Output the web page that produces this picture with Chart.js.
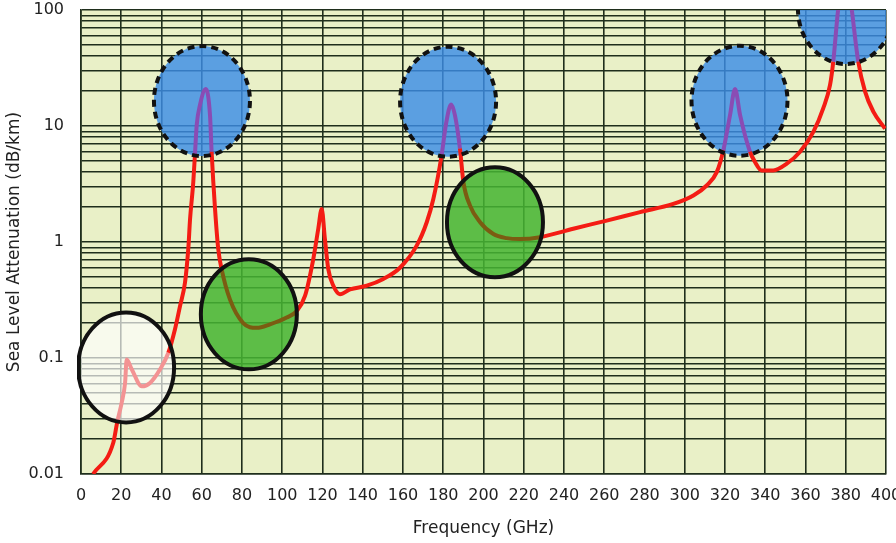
<!DOCTYPE html>
<html>
<head>
<meta charset="utf-8">
<script src="https://cdn.jsdelivr.net/npm/chart.js@4/dist/chart.umd.min.js"></script>
<style>
  html, body { margin: 0; padding: 0; background: #ffffff; }
  #wrap { width: 896px; height: 543px; }
</style>
</head>
<body>
<div id="wrap"><canvas id="attChart" width="896" height="543"></canvas></div>
<script>
// frequencia (GHz) e atenuacao ao nivel do mar (dB/km)
const freqGHz = [6, 16, 18, 20.2, 21.9, 22.7, 25.2, 30.2, 34.3, 39.3, 43.4, 46.7, 49.2, 51.7, 53.3, 54.2, 55.8, 56.6,
  57.5, 59.1, 62, 64.1, 64.9, 66.6, 68.2, 69.9, 74, 80.6, 87.3, 93.9, 102.2, 107.2, 111.3, 115.4, 117.9, 119.6,
  121.2, 122.9, 125.4, 128.7, 133.7, 142, 150.2, 158.5, 166.8, 171.8, 175.1, 179.2, 181.4, 183.9, 185.8, 188.3,
  190, 193.3, 198.3, 204.9, 211.5, 218.1, 228.1, 244.6, 261.2, 277.8, 294.3, 304.3, 310.9, 315.9, 319.2, 322.5,
  325, 327.5, 332.4, 334.9, 338.2, 344, 350.7, 357.3, 363.9, 368.8, 372.2, 373.8, 376.3, 380, 382.9, 386.2,
  389.6, 393.7, 399.5];
const attenuation = [0.01, 0.0185, 0.028, 0.041, 0.061, 0.097, 0.08, 0.057, 0.061, 0.08, 0.111, 0.177, 0.28, 0.45, 0.87, 1.58, 3.3, 5.6,
  10.2, 15.1, 20.8, 12.4, 6.0, 1.93, 0.87, 0.58, 0.32, 0.2, 0.182, 0.195, 0.223, 0.254, 0.343, 0.71, 1.3, 1.93,
  1.06, 0.58, 0.42, 0.355, 0.39, 0.42, 0.48, 0.6, 0.93, 1.48, 2.36, 5.6, 10.5, 15.3, 12.4, 6.4,
  3.3, 2.06, 1.48, 1.17, 1.08, 1.06, 1.10, 1.30, 1.53, 1.81, 2.13, 2.52, 3.07, 4.0, 6.2, 12.4,
  20.8, 12.4, 6.0, 4.9, 4.14, 4.14, 4.73, 6.0, 8.9, 14.2, 22.6, 36, 104, 250, 104, 36,
  19.8, 13.3, 9.5];

const xTicks = [0, 20, 40, 60, 80, 100, 120, 140, 160, 180, 200, 220, 240, 260, 280, 300, 320, 340, 360, 380, 400];
const yTicks = [0.01, 0.1, 1, 10, 100];

// circulos de destaque (centro em GHz / dB/km)
const markFreq = [22.4, 83.4, 205.7, 60.1, 182.4, 327.2, 380.1];
const markAtt = [0.083, 0.238, 1.48, 16.4, 16.2, 16.5, 102];
const markKind = ['white', 'green', 'green', 'blue', 'blue', 'blue', 'blue'];

const FONT = "'DejaVu Sans', Verdana, sans-serif";
const GRID = '#1f2e1c';

const kindStyle = {
  white: { fill: 'rgba(255,255,255,0.68)', line: '#f39393', dash: [] },
  green: { fill: 'rgba(70,180,50,0.86)', line: '#7b5c12', dash: [] },
  blue: { fill: 'rgba(60,140,230,0.82)', line: '#8a4cb4', dash: [7, 5] }
};
const RX = 48, RY = 55;

// linhas de grade log 1..9 x 10^k
const yGrid = [];
for (let e = -2; e < 2; e++) {
  for (let m = 1; m < 10; m++) yGrid.push(+(m * Math.pow(10, e)).toPrecision(3));
}
yGrid.push(100);

function markPixels(chart) {
  const sx = chart.scales.x, sy = chart.scales.y;
  return markFreq.map((f, i) => ({
    x: sx.getPixelForValue(f),
    y: sy.getPixelForValue(markAtt[i]),
    kind: markKind[i]
  }));
}

function kindAt(chart, px, py) {
  const marks = markPixels(chart);
  for (const m of marks) {
    const dx = (px - m.x) / RX, dy = (py - m.y) / RY;
    if (dx * dx + dy * dy <= 1) return m.kind;
  }
  return null;
}

const plotBg = {
  id: 'plotBg',
  beforeDraw(chart) {
    const { ctx, chartArea: a } = chart;
    ctx.save();
    ctx.fillStyle = '#e9f0c7';
    ctx.fillRect(a.left, a.top, a.right - a.left, a.bottom - a.top);
    ctx.restore();
  }
};

const circles = {
  id: 'circles',
  beforeDatasetsDraw(chart) {
    const { ctx, chartArea: a } = chart;
    ctx.save();
    ctx.beginPath();
    ctx.rect(a.left, a.top, a.right - a.left, a.bottom - a.top);
    ctx.clip();
    markPixels(chart).forEach(m => {
      ctx.beginPath();
      ctx.ellipse(m.x, m.y, RX, RY, 0, 0, Math.PI * 2);
      ctx.fillStyle = kindStyle[m.kind].fill;
      ctx.fill();
    });
    ctx.restore();
  },
  afterDatasetsDraw(chart) {
    const { ctx, chartArea: a } = chart;
    ctx.save();
    ctx.beginPath();
    ctx.rect(a.left - 4, a.top, a.right - a.left + 4, a.bottom - a.top);
    ctx.clip();
    markPixels(chart).forEach(m => {
      ctx.beginPath();
      ctx.ellipse(m.x, m.y, RX, RY, 0, 0, Math.PI * 2);
      ctx.setLineDash(kindStyle[m.kind].dash);
      ctx.lineWidth = 4;
      ctx.strokeStyle = '#111111';
      ctx.stroke();
    });
    ctx.restore();
  }
};

const ctx = document.getElementById('attChart').getContext('2d');
new Chart(ctx, {
  type: 'line',
  data: {
    datasets: [{
      label: 'Sea Level Attenuation',
      data: freqGHz.map((f, i) => ({ x: f, y: attenuation[i] })),
      borderColor: '#f41c14',
      borderWidth: 4,
      pointRadius: 0,
      cubicInterpolationMode: 'monotone',
      segment: {
        borderColor: c => {
          const k = kindAt(c.chart, (c.p0.x + c.p1.x) / 2, (c.p0.y + c.p1.y) / 2);
          return k ? kindStyle[k].line : undefined;
        }
      }
    }]
  },
  options: {
    responsive: false,
    animation: false,
    layout: { padding: { top: 0, right: 10, left: 0, bottom: 0 } },
    plugins: {
      legend: { display: false },
      tooltip: { enabled: false }
    },
    scales: {
      x: {
        type: 'linear',
        min: 0,
        max: 400,
        afterBuildTicks: s => { s.ticks = xTicks.map(v => ({ value: v })); },
        afterFit: s => { s.height = 69; s.paddingRight = 10; s.paddingLeft = 0; },
        ticks: { autoSkip: false, maxRotation: 0, color: '#222', padding: 12, font: { family: FONT, size: 16 } },
        grid: { color: GRID, lineWidth: 1.6, drawTicks: false },
        border: { color: GRID, width: 1.6 },
        title: { display: true, text: 'Frequency (GHz)', color: '#222', padding: { top: 8 }, font: { family: FONT, size: 17 } }
      },
      y: {
        type: 'logarithmic',
        min: 0.01,
        max: 100,
        afterBuildTicks: s => { s.ticks = yGrid.map(v => ({ value: v })); },
        afterFit: s => { s.width = 81; s.paddingTop = 10; },
        ticks: {
          autoSkip: false,
          color: '#222',
          padding: 17,
          font: { family: FONT, size: 16 },
          callback: v => yTicks.includes(v) ? String(v) : ''
        },
        grid: { color: GRID, lineWidth: 1.6, drawTicks: false },
        border: { color: GRID, width: 1.6 },
        title: { display: true, text: 'Sea Level Attenuation (dB/km)', color: '#222', padding: { bottom: 0 }, font: { family: FONT, size: 17 } }
      }
    }
  },
  plugins: [plotBg, circles]
});
</script>
</body>
</html>
